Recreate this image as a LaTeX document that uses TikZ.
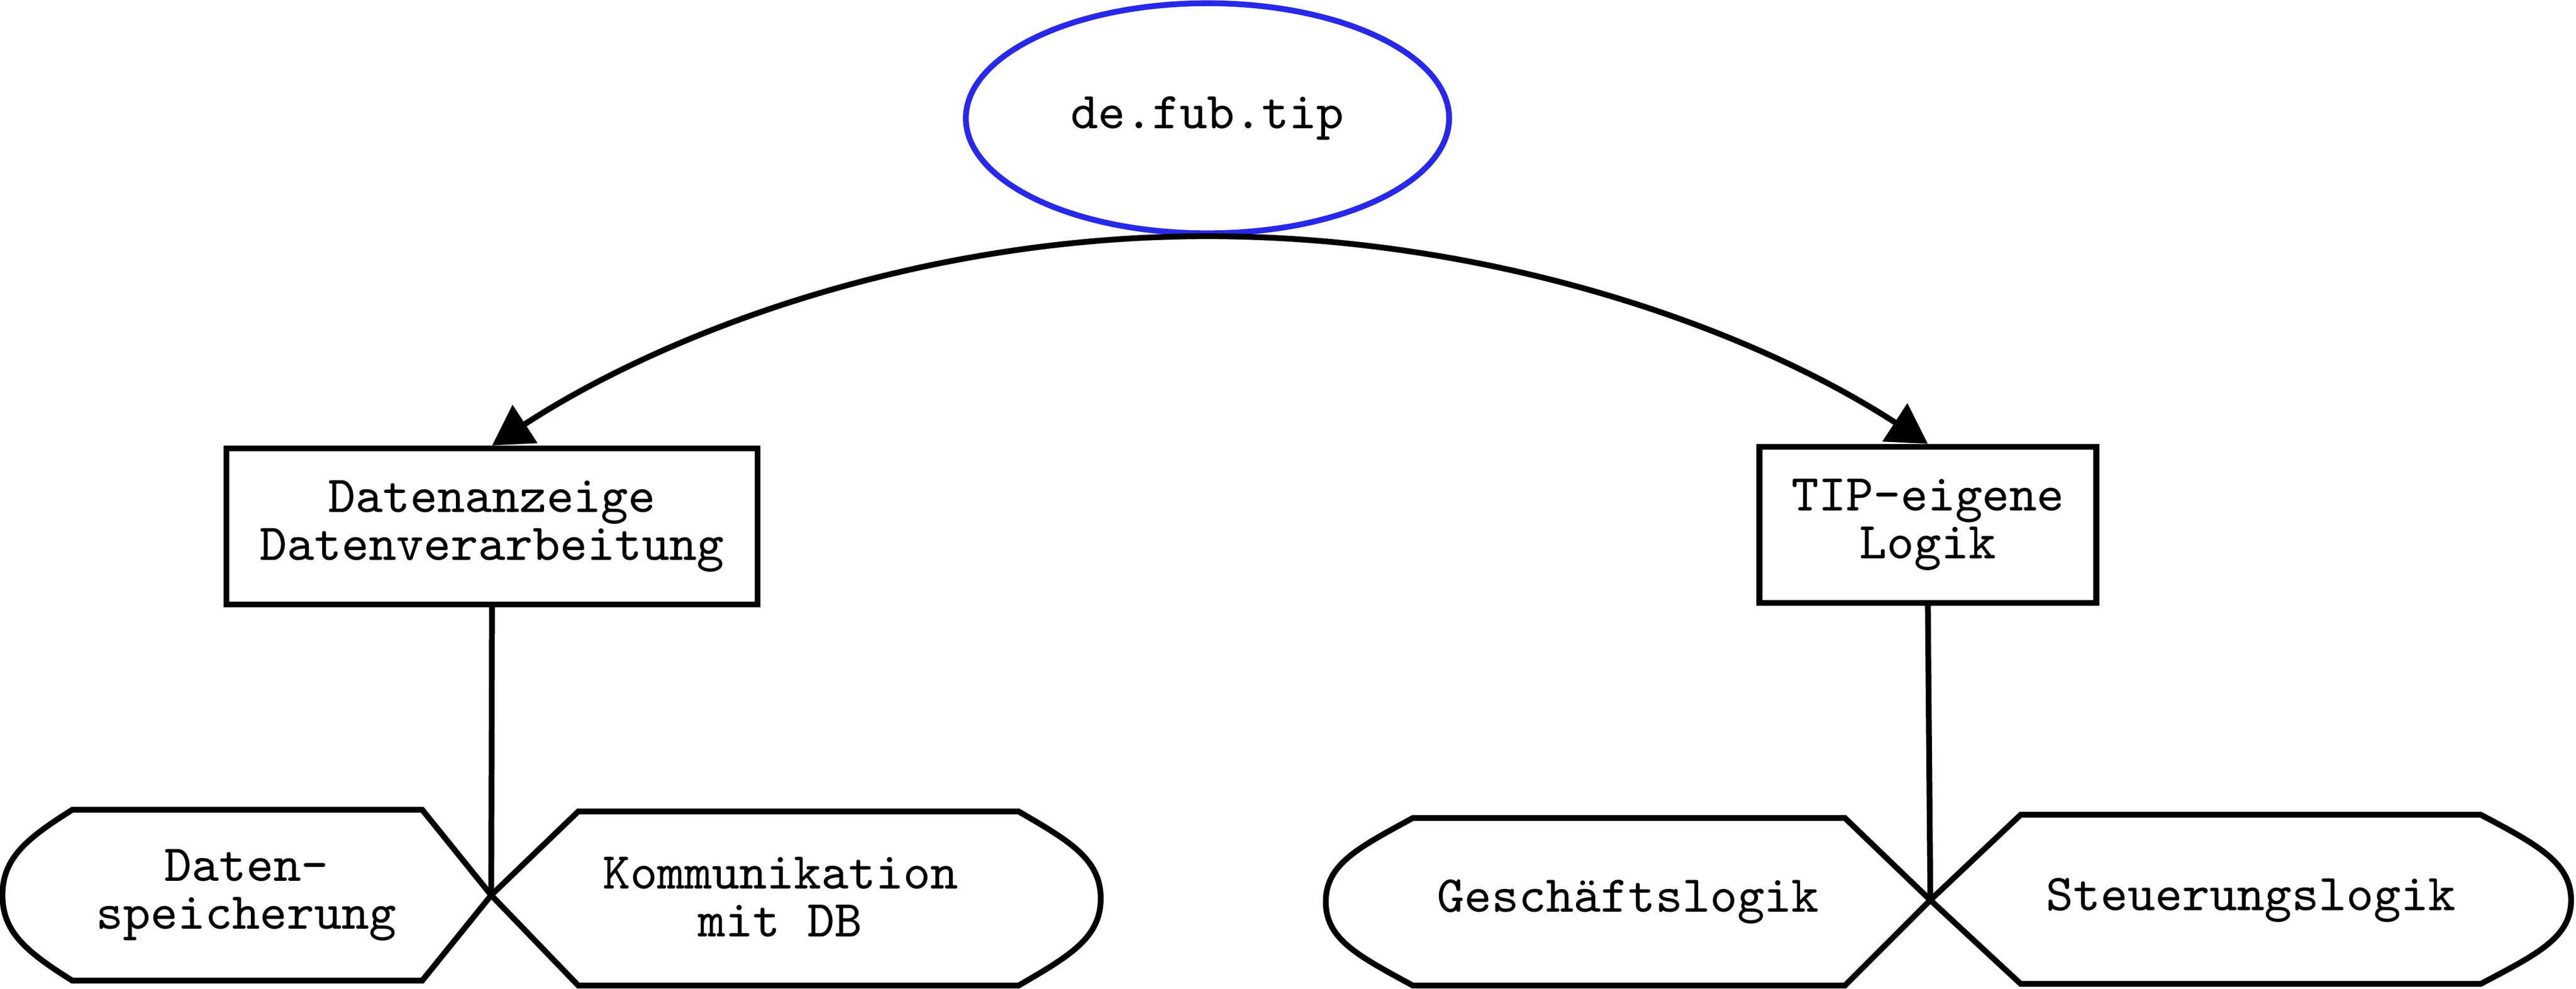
\documentclass[tikz,border=0pt]{standalone}
\usepackage{fontspec}
\usetikzlibrary{arrows.meta,shapes.geometric}
\definecolor{pkgblue}{RGB}{40,40,235}
\tikzset{
    lbl/.style={font=\ttfamily\fontsize{9}{8.3}\selectfont, align=center, inner sep=0pt},
    pkg/.style={lbl, ellipse, draw=pkgblue, line width=1pt, minimum width=2.94cm, minimum height=1.40cm},
    modbox/.style={lbl, rectangle, draw, line width=1pt, minimum height=0.95cm},
    conn/.style={line width=1pt, -{Triangle[length=0.24cm,width=0.27cm]}},
    part/.style={line width=1pt, line join=miter}
}
\begin{document}
\begin{tikzpicture}[x=0.01cm, y=0.01cm]
    \useasboundingbox (0,0) rectangle (1568,602);

    \node[pkg] (tip) at (735,530) {de.fub.tip};
    \node[modbox, minimum width=3.23cm] (daten) at (299.5,281.5) {Datenanzeige\\Datenverarbeitung};
    \node[modbox, minimum width=2.05cm] (logik) at (1173.5,282.5) {TIP-eigene\\Logik};

    \draw[conn] (tip.south) .. controls +(-172,0) and +(109,71) .. (daten.north);
    \draw[conn] (tip.south) .. controls +(172,0) and +(-109,71) .. (logik.north);

    % bottom parts
    \coordinate (j1) at (299,57);
    \coordinate (j2) at (1175,54);
    \node[lbl] (speicher) at (150,57) {Daten-\\speicherung};
    \node[lbl] (kommu) at (475,56) {Kommunikation\\mit DB};
    \node[lbl] (geschaeft) at (991,53) {Geschäftslogik};
    \node[lbl] (steuer) at (1370,54) {Steuerungslogik};

    \draw[part] (j1) -- (257,109) -- (44,109) .. controls (17,92) and (1.5,80) .. (1.5,57)
        .. controls (1.5,34) and (17,22) .. (44,5) -- (257,5) -- cycle;
    \draw[part] (j1) -- (352,108) -- (620,108) .. controls (651,90) and (670,79) .. (670,55)
        .. controls (670,31) and (651,20) .. (620,2) -- (352,2) -- cycle;
    \draw[part] (j2) -- (1123,104) -- (860,104) .. controls (827,86) and (807,76) .. (807,53)
        .. controls (807,30) and (827,20) .. (860,2) -- (1123,2) -- cycle;
    \draw[part] (j2) -- (1230,106) -- (1510,106) .. controls (1544,88) and (1565,77) .. (1565,54)
        .. controls (1565,31) and (1544,21) .. (1510,3) -- (1230,3) -- cycle;

    \draw[line width=1pt] (daten.south) -- (j1);
    \draw[line width=1pt] (logik.south) -- (j2);
\end{tikzpicture}
\end{document}
